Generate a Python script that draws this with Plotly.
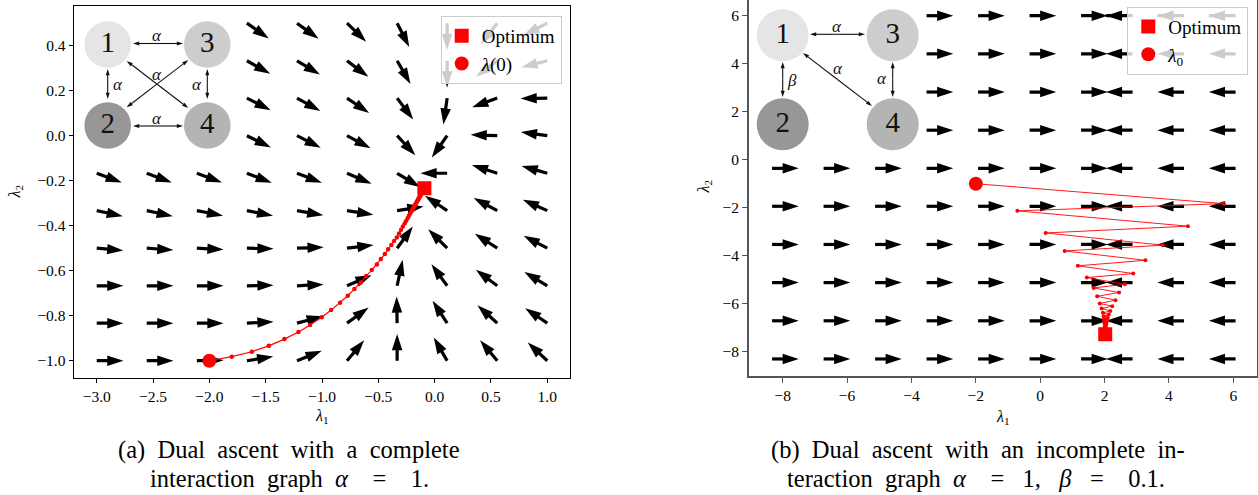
import numpy as np
import plotly.graph_objects as go

W, H = 1258, 495
FONT = "Liberation Serif"
MINUS = "\u2212"

# ---------------- panel (a): complete interaction graph ----------------
a_lam1 = [-3.0, -2.556, -2.111, -1.667, -1.222, -0.778, -0.333, 0.111, 0.556, 1.0]
a_lam2 = [-1.0, -0.833, -0.667, -0.5, -0.333, -0.167, 0.0, 0.167, 0.333, 0.5]
# direction of the ascent step (degrees), one row per lambda_2 value (bottom -> top)
a_angle = [
    [0, 0, 1, 9, 22, 50, 90, 120, 130, 137],
    [0, 0, 0, 3, 15, 36, 91, 123, 138, 146],
    [0, 0, 0, 1, 3, 23, 78, 126, 143, 149],
    [-5, -4, -3, -1, 2, 7, 54, 135, 147, 152],
    [-12, -12, -11, -11, -10, -9, 9, 146, 152, 156],
    [-20, -20, -20, -21, -21, -23, -31, 180, 162, 164],
    [-25, -25, -26, -26, -27, -28, -47, 235, 178, 172],
    [-27, -27, -28, -27, -29, -34, -53, 262, 200, 181],
    [-29, -29, -30, -29, -31, -37, -60, 270, 217, 194],
    [-33, -33, -34, -35, -36, -44, -63, 270, 232, 207],
]
a_start = (-2.0, -1.0)
a_opt = (-0.091, -0.234)
a_traj_x = [-2.0, -1.801, -1.623, -1.472, -1.334, -1.209, -1.106, -1.002, -0.919,
            -0.839, -0.771, -0.712, -0.655, -0.608, -0.558, -0.513, -0.478, -0.442,
            -0.413, -0.384, -0.360, -0.336, -0.316, -0.298, -0.282, -0.266, -0.252,
            -0.239, -0.228, -0.217, -0.207, -0.197, -0.189, -0.181, -0.174, -0.167,
            -0.161, -0.155, -0.150, -0.145, -0.141, -0.137, -0.133, -0.130, -0.127,
            -0.124, -0.121, -0.119, -0.117, -0.115, -0.111, -0.107, -0.103, -0.099,
            -0.095]
a_traj_y = [-1.0, -0.982, -0.960, -0.934, -0.904, -0.872, -0.841, -0.807, -0.775,
            -0.742, -0.711, -0.681, -0.652, -0.624, -0.597, -0.572, -0.548, -0.526,
            -0.505, -0.486, -0.468, -0.452, -0.435, -0.418, -0.404, -0.390, -0.378,
            -0.366, -0.356, -0.346, -0.337, -0.329, -0.321, -0.314, -0.307, -0.302,
            -0.296, -0.291, -0.287, -0.282, -0.278, -0.275, -0.272, -0.269, -0.266,
            -0.263, -0.261, -0.259, -0.257, -0.255, -0.251, -0.248, -0.245, -0.242,
            -0.238]
a_xticks = [-3.0, -2.5, -2.0, -1.5, -1.0, -0.5, 0.0, 0.5, 1.0]
a_yticks = [-1.0, -0.8, -0.6, -0.4, -0.2, 0.0, 0.2, 0.4]

# ---------------- panel (b): incomplete interaction graph ----------------
b_lam1 = [-8.33, -6.73, -5.13, -3.53, -1.93, -0.33, 1.27, 2.87, 4.47, 6.07]
b_lam2 = [-8.3, -6.71, -5.12, -3.53, -1.94, -0.36, 1.23, 2.82, 4.41, 6.0]
# the field in (b) only depends on lambda_1: pointing right left of the optimum, left beyond it
b_angle_col = [0, 0, 0, 0, 0, 0, 0, 180, 180, 180]
b_start = (-2.0, -1.0)
b_opt = (2.02, -7.27)
b_traj_x = [-2.0, 5.71, -0.71, 4.59, 0.17, 3.81, 0.76, 3.27, 1.17, 2.89, 1.45, 2.63,
            1.66, 2.45, 1.77, 2.34, 1.85, 2.24, 1.91, 2.18, 1.95, 2.13, 1.97, 2.10,
            1.98, 2.08, 1.99, 2.06, 2.00, 2.05, 2.01, 2.04, 2.01, 2.03, 2.02, 2.03,
            2.02, 2.02, 2.02]
b_traj_y = [-1.0, -1.83, -2.13, -2.77, -3.05, -3.56, -3.80, -4.19, -4.42, -4.74,
            -4.91, -5.19, -5.34, -5.53, -5.69, -5.85, -5.99, -6.10, -6.20, -6.30,
            -6.38, -6.45, -6.52, -6.58, -6.63, -6.68, -6.73, -6.77, -6.81, -6.85,
            -6.88, -6.91, -6.94, -6.97, -7.00, -7.02, -7.05, -7.07, -7.09]
b_xticks = [-8, -6, -4, -2, 0, 2, 4, 6]
b_yticks = [-8, -6, -4, -2, 0, 2, 4, 6]

# ---------------- layout geometry (pixels from top-left) ----------------
A_BOX = dict(x0=74.2, x1=569.8, y0=6.3, y1=377.6)
A_XR, A_YR = [-3.2, 1.2], [-1.075, 0.575]
B_BOX = dict(x0=748.6, x1=1256.8, y0=0.0, y1=376.0)
B_XR, B_YR = [-9.06, 6.73], [-9.01, 6.654]

ARROW_LEN = 26.7   # px, normalised quiver arrows
HEAD = 17          # marker size of arrow head
SHAFT = 3.2


def px_scale(box, xr, yr):
    return ((box["x1"] - box["x0"]) / (xr[1] - xr[0]),
            (box["y1"] - box["y0"]) / (yr[1] - yr[0]))


def quiver(xs, ys, ang, box, xr, yr, xa, ya):
    sx, sy = px_scale(box, xr, yr)
    X, Y, S = [], [], []
    for j, yv in enumerate(ys):
        for i, xv in enumerate(xs):
            t = np.radians(ang[j][i])
            X += [xv, xv + ARROW_LEN * np.cos(t) / sx, None]
            Y += [yv, yv + ARROW_LEN * np.sin(t) / sy, None]
            S += [0, HEAD, 0]
    return go.Scatter(x=X, y=Y, mode="lines+markers", xaxis=xa, yaxis=ya,
                      line=dict(color="black", width=SHAFT),
                      marker=dict(symbol="arrow", size=S, color="black", opacity=1,
                                  angleref="previous", line=dict(width=0)),
                      hoverinfo="skip", showlegend=False)


def fmt(v, digits):
    s = f"{abs(v):.{digits}f}"
    return (MINUS + s) if v < 0 else s


b_angle = [list(b_angle_col) for _ in b_lam2]

fig = go.Figure()
fig.add_trace(quiver(a_lam1, a_lam2, a_angle, A_BOX, A_XR, A_YR, "x", "y"))
fig.add_trace(quiver(b_lam1, b_lam2, b_angle, B_BOX, B_XR, B_YR, "x2", "y2"))

fig.add_trace(go.Scatter(x=a_traj_x, y=a_traj_y, mode="lines+markers", xaxis="x", yaxis="y",
                         line=dict(color="red", width=1.2), marker=dict(size=4.5, color="red"),
                         showlegend=False, hoverinfo="skip"))
fig.add_trace(go.Scatter(x=[a_opt[0]], y=[a_opt[1]], mode="markers", xaxis="x", yaxis="y",
                         marker=dict(symbol="square", size=14, color="red"),
                         name="Optimum", legend="legend"))
fig.add_trace(go.Scatter(x=[a_start[0]], y=[a_start[1]], mode="markers", xaxis="x", yaxis="y",
                         marker=dict(symbol="circle", size=14, color="red"),
                         name="<i>λ</i>(0)", legend="legend"))

fig.add_trace(go.Scatter(x=b_traj_x, y=b_traj_y, mode="lines+markers", xaxis="x2", yaxis="y2",
                         line=dict(color="red", width=0.9), marker=dict(size=4, color="red"),
                         showlegend=False, hoverinfo="skip"))
fig.add_trace(go.Scatter(x=[b_opt[0]], y=[b_opt[1]], mode="markers", xaxis="x2", yaxis="y2",
                         marker=dict(symbol="square", size=14, color="red"),
                         name="Optimum", legend="legend2"))
fig.add_trace(go.Scatter(x=[b_start[0]], y=[b_start[1]], mode="markers", xaxis="x2", yaxis="y2",
                         marker=dict(symbol="circle", size=14, color="red"),
                         name="<i>λ</i><sub>0</sub>", legend="legend2"))

# ---------------- interaction-graph insets (drawn on a full-figure pixel overlay) ----------------
node_fill = {"1": "#e5e5e5", "2": "#979797", "3": "#cdcdcd", "4": "#b4b4b4"}
graphs = [
    dict(box=(76, 8, 240, 155),
         nodes={"1": (107.7, 43.5), "3": (207.3, 43.5), "2": (107.7, 124.5), "4": (207.3, 124.5)},
         r=23.3,
         edges=[((133, 43.5), (183, 43.5)), ((133, 126), (183, 126)),
                ((107.7, 69), (107.7, 99)), ((207.3, 69), (207.3, 99)),
                ((126.7, 61), (188.3, 108)), ((126.7, 107.3), (188.3, 60))],
         labels=[("α", 157, 35), ("α", 157, 118.5), ("α", 117.5, 84.3),
                 ("α", 197.3, 84.3), ("α", 157, 75)]),
    dict(box=(751, 0, 920, 152),
         nodes={"1": (782.7, 34.3), "3": (892.7, 34.3), "2": (782.7, 123.3), "4": (892.7, 123.3)},
         r=26,
         edges=[((810, 34.3), (865, 34.3)), ((782.7, 62), (782.7, 97)),
                ((892.7, 62), (892.7, 97)), ((803, 53), (872, 106))],
         labels=[("α", 837, 26), ("β", 791.7, 80), ("α", 882.3, 78.5), ("α", 838.3, 68.3)]),
]
EDGE_HEAD = 6.5
for g in graphs:
    x0, y0, x1, y1 = g["box"]
    fig.add_trace(go.Scatter(x=[x0, x1, x1, x0, x0], y=[y0, y0, y1, y1, y0], mode="lines",
                             fill="toself", fillcolor="white", line=dict(width=0, color="white"),
                             xaxis="x3", yaxis="y3", hoverinfo="skip", showlegend=False))
    EX, EY, ES = [], [], []
    for p, q in g["edges"]:
        mx, my = (p[0] + q[0]) / 2, (p[1] + q[1]) / 2
        EX += [mx, p[0], None, mx, q[0], None]
        EY += [my, p[1], None, my, q[1], None]
        ES += [0, EDGE_HEAD, 0, 0, EDGE_HEAD, 0]
    fig.add_trace(go.Scatter(x=EX, y=EY, mode="lines+markers", xaxis="x3", yaxis="y3",
                             line=dict(color="#111111", width=1.1),
                             marker=dict(symbol="arrow", size=ES, color="#111111", opacity=1,
                                         angleref="previous", line=dict(width=0)),
                             hoverinfo="skip", showlegend=False))
    names = list(g["nodes"].keys())
    fig.add_trace(go.Scatter(x=[g["nodes"][n][0] for n in names],
                             y=[g["nodes"][n][1] + 1 for n in names],
                             mode="markers+text", text=names, textposition="middle center",
                             textfont=dict(family=FONT, size=29, color="#111111"),
                             marker=dict(size=2 * g["r"], color=[node_fill[n] for n in names],
                                         opacity=1, line=dict(width=0)),
                             xaxis="x3", yaxis="y3", hoverinfo="skip", showlegend=False))


def xdom(box):
    return [box["x0"] / W, box["x1"] / W]


def ydom(box):
    return [1 - box["y1"] / H, 1 - box["y0"] / H]


tickfont = dict(family=FONT, size=15.5, color="black")
axA = dict(showline=True, linecolor="black", linewidth=1.2, mirror=True, ticks="outside",
           ticklen=4.5, tickwidth=1.1, tickcolor="black", showgrid=False, zeroline=False,
           tickfont=tickfont)
axB = dict(showline=True, linecolor="#555555", linewidth=2, ticks="outside",
           ticklen=4.5, tickwidth=1.3, tickcolor="#555555", showgrid=False, zeroline=False,
           tickfont=tickfont)
legend_style = dict(xanchor="right", yanchor="top", bgcolor="rgba(255,255,255,0.8)",
                    bordercolor="#cccccc", borderwidth=1,
                    font=dict(family=FONT, size=19, color="black"))

fig.update_layout(
    width=W, height=H, margin=dict(l=0, r=0, t=0, b=0), autosize=False,
    paper_bgcolor="white", plot_bgcolor="rgba(0,0,0,0)",
    xaxis=dict(domain=xdom(A_BOX), range=A_XR, anchor="y", tickvals=a_xticks,
               ticktext=[fmt(v, 1) for v in a_xticks], **axA),
    yaxis=dict(domain=ydom(A_BOX), range=A_YR, anchor="x", tickvals=a_yticks,
               ticktext=[fmt(v, 1) for v in a_yticks], **axA),
    xaxis2=dict(domain=xdom(B_BOX), range=B_XR, anchor="y2", tickvals=b_xticks,
                ticktext=[fmt(v, 0) for v in b_xticks], mirror=False, **axB),
    yaxis2=dict(domain=ydom(B_BOX), range=B_YR, anchor="x2", tickvals=b_yticks,
                ticktext=[fmt(v, 0) for v in b_yticks], mirror=True, **axB),
    xaxis3=dict(domain=[0, 1], range=[0, W], anchor="y3", visible=False, fixedrange=True),
    yaxis3=dict(domain=[0, 1], range=[H, 0], anchor="x3", visible=False, fixedrange=True),
    legend=dict(x=561.7 / W, y=1 - 16 / H, **legend_style),
    legend2=dict(x=1248.3 / W, y=1 - 6.7 / H, **legend_style),
)


def P(px, py):
    return px / W, 1 - py / H


annots = []


def text_at(txt, px, py, size, color="black", angle=0):
    x, y = P(px, py)
    annots.append(dict(x=x, y=y, xref="paper", yref="paper", text=txt, showarrow=False,
                       xanchor="center", yanchor="middle", textangle=angle,
                       font=dict(family=FONT, size=size, color=color)))


for g in graphs:
    for txt, lx, ly in g["labels"]:
        text_at(f"<i>{txt}</i>", lx, ly, 17, "#111111")

# axis titles
text_at("<i>λ</i><sub>1</sub>", 321.7, 416, 16)
text_at("<i>λ</i><sub>2</sub>", 15, 191.5, 16, angle=-90)
text_at("<i>λ</i><sub>1</sub>", 1003, 417.5, 16)
text_at("<i>λ</i><sub>2</sub>", 703.5, 187, 16, angle=-90)

# sub-figure captions (justified lines, hence the widened spaces)
NB = "\u00a0"
SP = NB + " "
CAP = 24.5
text_at(f"(a){SP}Dual{SP}ascent{SP}with{SP}a{SP}complete", 288.7, 449.5, CAP)
text_at(f"interaction{SP}graph {NB}<i>α</i>{NB*4}={NB*4}1.", 289, 478, CAP)
text_at(f"(b){SP}Dual{SP}ascent{SP}with{SP}an{SP}incomplete{SP}in-", 978, 449.5, CAP)
text_at(f"teraction{SP}graph{SP}<i>α</i>{NB*4}={NB*3}1,{NB*3}<i>β</i>{NB*3}={NB*4}0.1.",
        976, 478, CAP)

fig.update_layout(annotations=annots)
fig.write_html("out.html")
